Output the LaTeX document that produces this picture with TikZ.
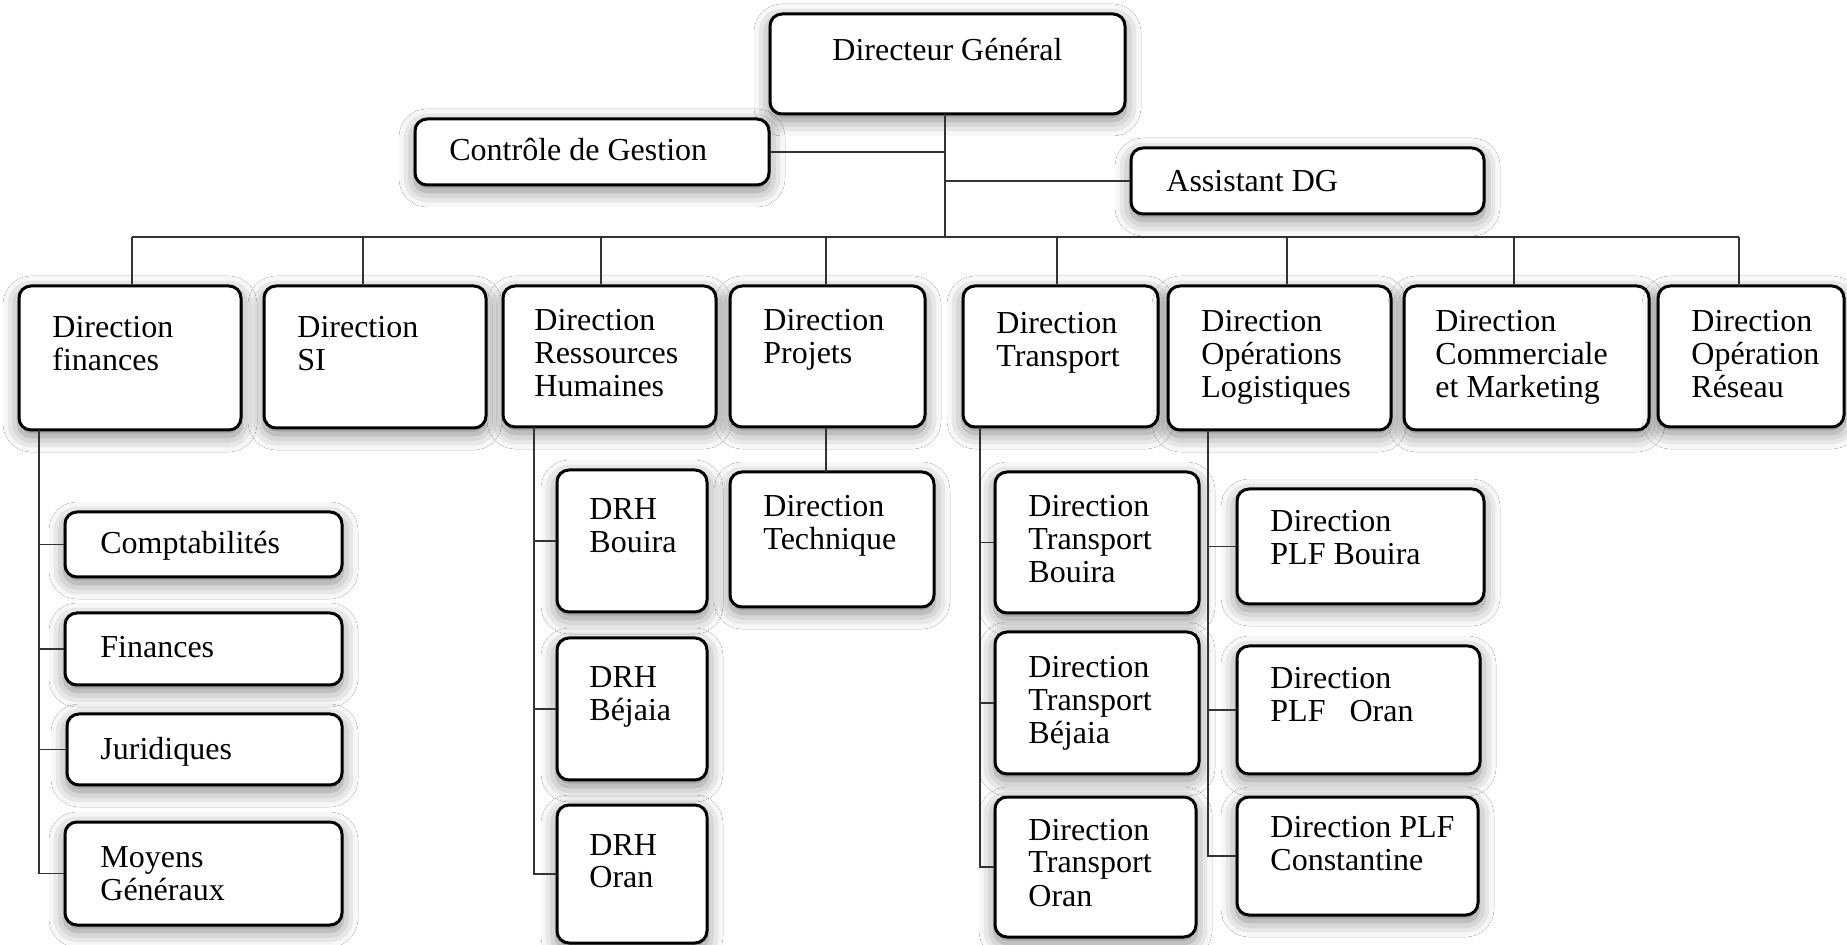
\documentclass[tikz,border=0pt]{standalone}
\usepackage{fontspec}
\setmainfont{Liberation Serif}
\newfontfamily\orgfont{Liberation Serif}
\usetikzlibrary{shadows.blur}

% one unit = half a point, y grows downwards
\tikzset{
  unitbox/.style={draw=black, line width=1.5pt, rounded corners=6pt, fill=white,
    inner sep=0pt,
    blur shadow={shadow xshift=0pt, shadow yshift=-3pt, shadow blur radius=8pt, shadow opacity=50}},
  boxtext/.style={inner sep=0pt, anchor=base west, font=\orgfont\fontsize{16}{16.5}\selectfont},
  link/.style={draw=black!80, line width=0.8pt}
}

% \orgbox{name}{x1}{y1}{x2}{y2}{text dx}{first baseline dy}{lines}
\newcommand\orgbox[8]{%
  \node[unitbox, minimum width={(#4-#2)*0.5pt}, minimum height={(#5-#3)*0.5pt}]
    (#1) at ({(#2+#4)/2},{(#3+#5)/2}) {};
  \node[boxtext] (#1-t) at ({#2+#6},{#3+#7})
    {\begin{tabular}[t]{@{}l@{}}#8\end{tabular}};
}

\begin{document}
\begin{tikzpicture}[x=0.5pt, y=-0.5pt]
\path[use as bounding box, fill=white] (0,0) rectangle (1847,945);
\clip (0,0) rectangle (1847,945);

% top level
\orgbox{dg}{770}{14}{1125}{114}{62}{47}{Directeur Général}
\orgbox{cdg}{415}{119}{769}{185}{34}{42}{Contrôle de Gestion}
\orgbox{asst}{1131}{148}{1484}{214}{35}{44}{Assistant DG}

% directions
\orgbox{fin}{19}{286}{241}{430}{33}{52}{Direction\\finances}
\orgbox{si}{264}{286}{486}{428}{33}{52}{Direction\\SI}
\orgbox{rh}{503}{286}{716}{427}{31}{45}{Direction\\Ressources\\Humaines}
\orgbox{proj}{730}{286}{925}{427}{33}{45}{Direction\\Projets}
\orgbox{trans}{963}{286}{1158}{427}{33}{48}{Direction\\Transport}
\orgbox{oplog}{1168}{286}{1391}{430}{33}{46}{Direction\\Opérations\\Logistiques}
\orgbox{com}{1404}{286}{1649}{430}{31}{46}{Direction\\Commerciale\\et Marketing}
\orgbox{res}{1658}{286}{1844}{427}{33}{46}{Direction\\Opération\\Réseau}

% finance departments
\orgbox{cpt}{65}{512}{342}{577}{35}{42}{Comptabilités}
\orgbox{fi}{65}{613}{342}{685}{35}{45}{Finances}
\orgbox{jur}{67}{714}{342}{785}{33}{46}{Juridiques}
\orgbox{mg}{65}{822}{342}{925}{35}{45}{Moyens\\Généraux}

% regional HR
\orgbox{drh1}{557}{470}{707}{612}{32}{50}{DRH\\Bouira}
\orgbox{drh2}{557}{638}{707}{780}{32}{50}{DRH\\Béjaia}
\orgbox{drh3}{557}{805}{707}{943}{32}{50}{DRH\\Oran}

% projects
\orgbox{tech}{730}{472}{934}{607}{33}{45}{Direction\\Technique}

% regional transport
\orgbox{tb}{995}{472}{1199}{613}{33}{45}{Direction\\Transport\\Bouira}
\orgbox{tbj}{995}{632}{1199}{774}{33}{46}{Direction\\Transport\\Béjaia}
\orgbox{tor}{995}{797}{1196}{937}{33}{43}{Direction\\Transport\\Oran}

% logistics platforms
\orgbox{pb}{1237}{489}{1484}{604}{33}{43}{Direction\\PLF Bouira}
\orgbox{po}{1237}{646}{1480}{774}{33}{43}{Direction\\PLF\ \ \ Oran}
\orgbox{pc}{1237}{797}{1478}{915}{33}{40}{Direction PLF\\Constantine}

% main bus
\coordinate (b1) at (132,237);
\coordinate (b2) at (363,237);
\coordinate (b3) at (601,237);
\coordinate (b4) at (826,237);
\coordinate (b5) at (1057,237);
\coordinate (b6) at (1287,237);
\coordinate (b7) at (1514,237);
\coordinate (b8) at (1739,237);
\coordinate (dgx) at (945,114);

\draw[link] (dgx) -- (dgx |- b1);
\draw[link] (cdg.east) -- (cdg.east -| dgx);
\draw[link] (asst.west) -- (asst.west -| dgx);
\draw[link] (b1) -- (b8);
\foreach \b/\n in {b1/fin, b2/si, b3/rh, b4/proj, b5/trans, b6/oplog, b7/com, b8/res}
  \draw[link] (\b) -- (\b |- \n.north);

% branches below the directions
\coordinate (vf) at (39,430);
\draw[link] (vf) |- (mg.west);
\foreach \n in {cpt, fi, jur}
  \draw[link] (vf |- \n.west) -- (\n.west);

\coordinate (vr) at (534,427);
\draw[link] (vr) |- (drh3.west);
\foreach \n in {drh1, drh2}
  \draw[link] (vr |- \n.west) -- (\n.west);

\coordinate (tp) at (826,472);
\draw[link] (proj.south -| tp) -- (tp);

\coordinate (vt) at (980,427);
\draw[link] (vt) |- (tor.west);
\foreach \n in {tb, tbj}
  \draw[link] (vt |- \n.west) -- (\n.west);

\coordinate (vo) at (1208,430);
\draw[link] (vo) |- (pc.west);
\foreach \n in {pb, po}
  \draw[link] (vo |- \n.west) -- (\n.west);
\end{tikzpicture}
\end{document}
